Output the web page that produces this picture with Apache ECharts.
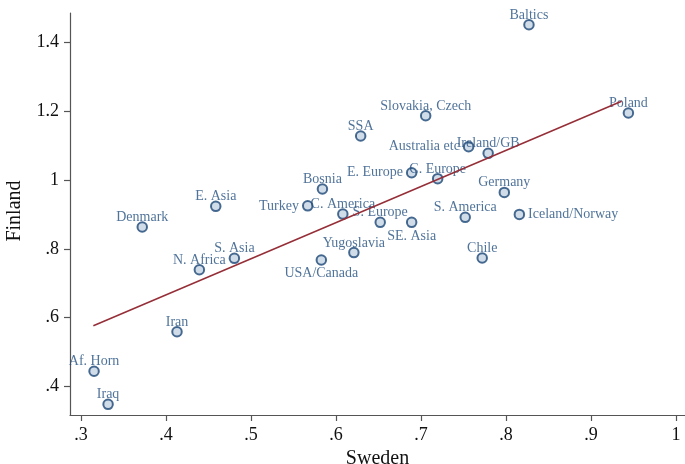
<!DOCTYPE html>
<html>
<head>
<meta charset="utf-8">
<script src="https://cdn.jsdelivr.net/npm/echarts@6/dist/echarts.min.js"></script>
<style>
  html, body { margin: 0; padding: 0; background: #fff; }
  #chart { width: 685px; height: 464px; }
</style>
</head>
<body>
<div id="chart"></div>
<script>
// Region names and their shares in Sweden (x) and Finland (y)
const regions = ['Baltics', 'Poland', 'Slovakia, Czech', 'SSA', 'Australia etc', 'Ireland/GB',
  'E. Europe', 'C. Europe', 'Bosnia', 'Turkey', 'C. America', 'S. Europe', 'SE. Asia',
  'S. America', 'Germany', 'Iceland/Norway', 'Chile', 'Yugoslavia', 'USA/Canada', 'Denmark',
  'E. Asia', 'S. Asia', 'N. Africa', 'Iran', 'Af. Horn', 'Iraq'];
const sweden = [0.827, 0.944, 0.7055, 0.629, 0.756, 0.779,
  0.689, 0.7196, 0.584, 0.5667, 0.608, 0.652, 0.689,
  0.752, 0.798, 0.8157, 0.772, 0.621, 0.5827, 0.372,
  0.4585, 0.4804, 0.4392, 0.4129, 0.3153, 0.3318];
const finland = [1.4515, 1.1948, 1.187, 1.128, 1.097, 1.0776,
  1.021, 1.004, 0.974, 0.925, 0.901, 0.877, 0.877,
  0.8915, 0.964, 0.900, 0.7733, 0.789, 0.7674, 0.8634,
  0.9235, 0.7723, 0.7393, 0.559, 0.444, 0.348];

// Fitted line end points
const fitX = [0.3145, 0.936];
const fitY = [0.5765, 1.229];

// Tick values
const xTicks = [0.3, 0.4, 0.5, 0.6, 0.7, 0.8, 0.9, 1];
const yTicks = [0.4, 0.6, 0.8, 1, 1.2, 1.4];

// Label placement (default is above the marker)
const leftLabels = ['Turkey', 'E. Europe', 'Australia etc'];
const rightLabels = ['Iceland/Norway'];
const bottomLabels = ['USA/Canada', 'SE. Asia'];

const serif = '"Liberation Serif", "DejaVu Serif", serif';
const fmt = v => (Math.abs(v - 1) < 1e-9 ? '1' : String(+v.toFixed(2)).replace(/^0/, ''));

function labelFor(name) {
  if (leftLabels.includes(name)) return { position: 'left', distance: 3 };
  if (rightLabels.includes(name)) return { position: 'right', distance: 3 };
  if (bottomLabels.includes(name)) return { position: 'bottom', distance: 1 };
  return { position: 'top', distance: -3 };
}

const points = regions.map((name, i) => ({
  name: name,
  value: [sweden[i], finland[i]],
  label: labelFor(name)
}));

const axisCommon = {
  axisLine: { show: true, lineStyle: { color: '#555', width: 1.2 } },
  axisTick: { show: true, length: 6, lineStyle: { color: '#555', width: 1.2 } },
  splitLine: { show: false },
  nameLocation: 'middle',
  nameTextStyle: { fontFamily: serif, fontSize: 20, color: '#111' }
};

const chart = echarts.init(document.getElementById('chart'), null, { renderer: 'canvas' });
chart.setOption({
  animation: false,
  backgroundColor: '#fff',
  grid: { left: 70, top: 13, right: 0, bottom: 49, containLabel: false, outerBoundsMode: 'none' },
  xAxis: Object.assign({}, axisCommon, {
    type: 'value', min: 0.287, max: 1.0106,
    name: 'Sweden', nameGap: 33,
    axisTick: Object.assign({}, axisCommon.axisTick, { customValues: xTicks }),
    axisLabel: { customValues: xTicks, formatter: fmt, fontFamily: serif, fontSize: 18, color: '#111', margin: 11 }
  }),
  yAxis: Object.assign({}, axisCommon, {
    type: 'value', min: 0.317, max: 1.4855,
    name: 'Finland', nameGap: 45,
    nameTextStyle: { fontFamily: serif, fontSize: 20, color: '#111', padding: [0, 0, 0, 6] },
    axisTick: Object.assign({}, axisCommon.axisTick, { customValues: yTicks }),
    axisLabel: { customValues: yTicks, formatter: fmt, fontFamily: serif, fontSize: 18, color: '#111', margin: 11 }
  }),
  series: [
    {
      type: 'scatter',
      data: points,
      symbol: 'circle',
      symbolSize: 9.5,
      itemStyle: { color: '#c6d3e3', borderColor: '#1a4676', borderWidth: 2 },
      label: {
        show: true,
        formatter: p => p.name,
        fontFamily: serif,
        fontSize: 14,
        color: '#24507f'
      },
      labelLayout: { hideOverlap: false },
      clip: false,
      z: 2
    },
    {
      type: 'line',
      data: fitX.map((x, i) => [x, fitY[i]]),
      symbol: 'none',
      lineStyle: { color: '#962e37', width: 1.5 },
      z: 3
    }
  ]
});
</script>
</body>
</html>
